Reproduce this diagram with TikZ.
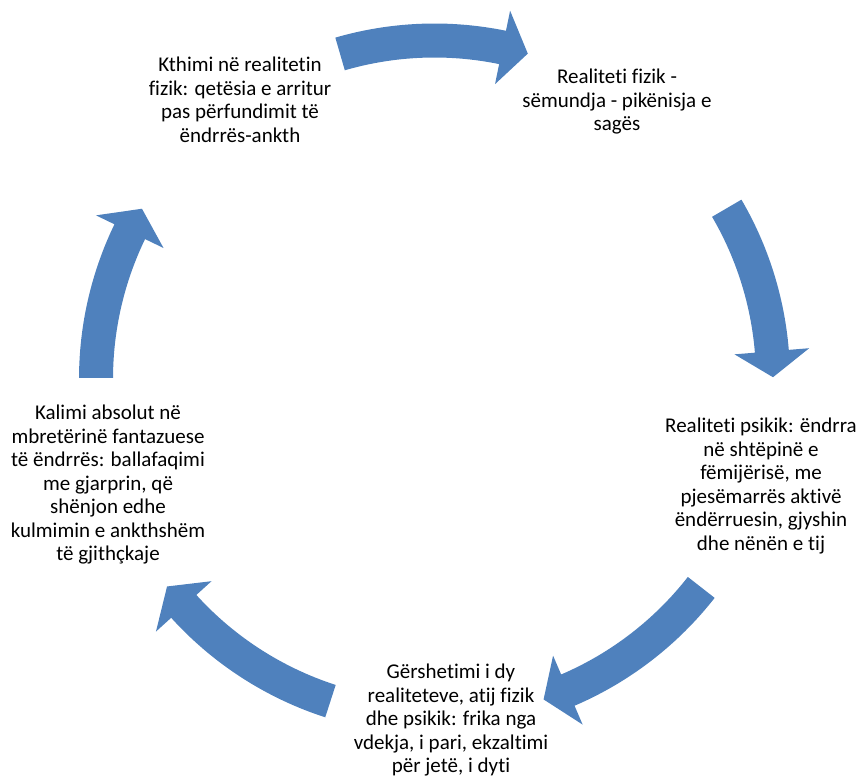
\documentclass[tikz,border=0pt]{standalone}
\usepackage{fontspec}
\setmainfont[Ligatures=NoCommon]{Carlito}
\definecolor{arrowblue}{RGB}{79,129,189}
\tikzset{
  lbl/.style={align=center, inner sep=0pt, font=\fontsize{21}{23.5}\selectfont, text=black},
  cyclearrow/.style={fill=arrowblue, draw=none}
}
% #1 tail angle, #2 tip angle
\newcommand{\cycarrow}[2]{%
  \pgfmathsetmacro{\hb}{#2+4.4}%
  \fill[cyclearrow] (#1:355.5pt) arc[start angle=#1, end angle=\hb, radius=355.5pt]
    -- (\hb:376pt) -- (#2:338.5pt) -- (\hb:301pt) -- (\hb:321.5pt)
    arc[start angle=\hb, end angle=#1, radius=321.5pt] -- cycle;}
\begin{document}
\begin{tikzpicture}[x=1pt,y=1pt]
\useasboundingbox (0,0) rectangle (859,-776);
\begin{scope}[shift={(434.5,-379)}]
  \cycarrow{106.2}{74.0}
  \cycarrow{30.3}{0.3}
  \cycarrow{-38.0}{-71.2}
  \cycarrow{-107.9}{-142.2}
  \cycarrow{179.8}{149.8}
\end{scope}
\node[lbl] (tl) at (240,-100) {Kthimi në realitetin\\fizik: qetësia e arritur\\pas përfundimit të\\ëndrrës-ankth};
\node[lbl] (tr) at (617,-102) {Realiteti fizik -\\sëmundja - pikënisja e\\sagës};
\node[lbl] (r) at (761,-486) {Realiteti psikik: ëndrra\\në shtëpinë e\\fëmijërisë, me\\pjesëmarrës aktivë\\ëndërruesin, gjyshin\\dhe nënën e tij};
\node[lbl] (b) at (451,-720) {Gërshetimi i dy\\realiteteve, atij fizik\\dhe psikik: frika nga\\vdekja, i pari, ekzaltimi\\për jetë, i dyti};
\node[lbl] (l) at (108,-485) {Kalimi absolut në\\mbretërinë fantazuese\\të ëndrrës: ballafaqimi\\me gjarprin, që\\shënjon edhe\\kulmimin e ankthshëm\\të gjithçkaje};
\end{tikzpicture}
\end{document}
